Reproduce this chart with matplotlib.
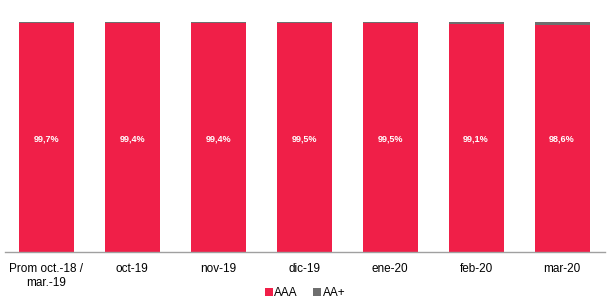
import numpy as np
import matplotlib.pyplot as plt

plt.rcParams['font.family'] = ['Liberation Sans', 'DejaVu Sans']

categories = ["Prom oct.-18 /\nmar.-19", "oct-19", "nov-19", "dic-19", "ene-20", "feb-20", "mar-20"]
aaa = [99.7, 99.4, 99.4, 99.5, 99.5, 99.1, 98.6]
aa_plus = [0.3, 0.6, 0.6, 0.5, 0.5, 0.9, 1.4]
labels = ["99,7%", "99,4%", "99,4%", "99,5%", "99,5%", "99,1%", "98,6%"]

red = "#F01F48"
grey = "#6E6E6E"

fig = plt.figure(figsize=(6.1, 2.99), dpi=100)
ax = fig.add_axes([5 / 610, 47 / 299, 600 / 610, 230 / 299])

x = np.arange(len(categories))
w = 0.64
ax.bar(x, aaa, w, color=red, label="AAA")
ax.bar(x, aa_plus, w, bottom=aaa, color=grey, label="AA+")

for xi, lab in zip(x, labels):
    ax.text(xi, 49, lab, ha="center", va="center", color="white",
            fontsize=6.5, fontweight="bold")

ax.set_xlim(-0.48, 6.5)
ax.set_ylim(0, 100)
ax.set_yticks([])
ax.set_xticks(x)
ax.set_xticklabels(categories, fontsize=8.5)
ax.tick_params(axis="x", length=0, pad=8)
for s in ["top", "right", "left"]:
    ax.spines[s].set_visible(False)
ax.spines["bottom"].set_color("#A0A0A0")
ax.spines["bottom"].set_linewidth(1)

fig.legend(loc="lower center", bbox_to_anchor=(0.5, -0.035), ncol=2, frameon=False,
           fontsize=8.5, handlelength=0.7, handleheight=0.7, handletextpad=0.1,
           columnspacing=1.3)

fig.savefig("out.png", dpi=100)
